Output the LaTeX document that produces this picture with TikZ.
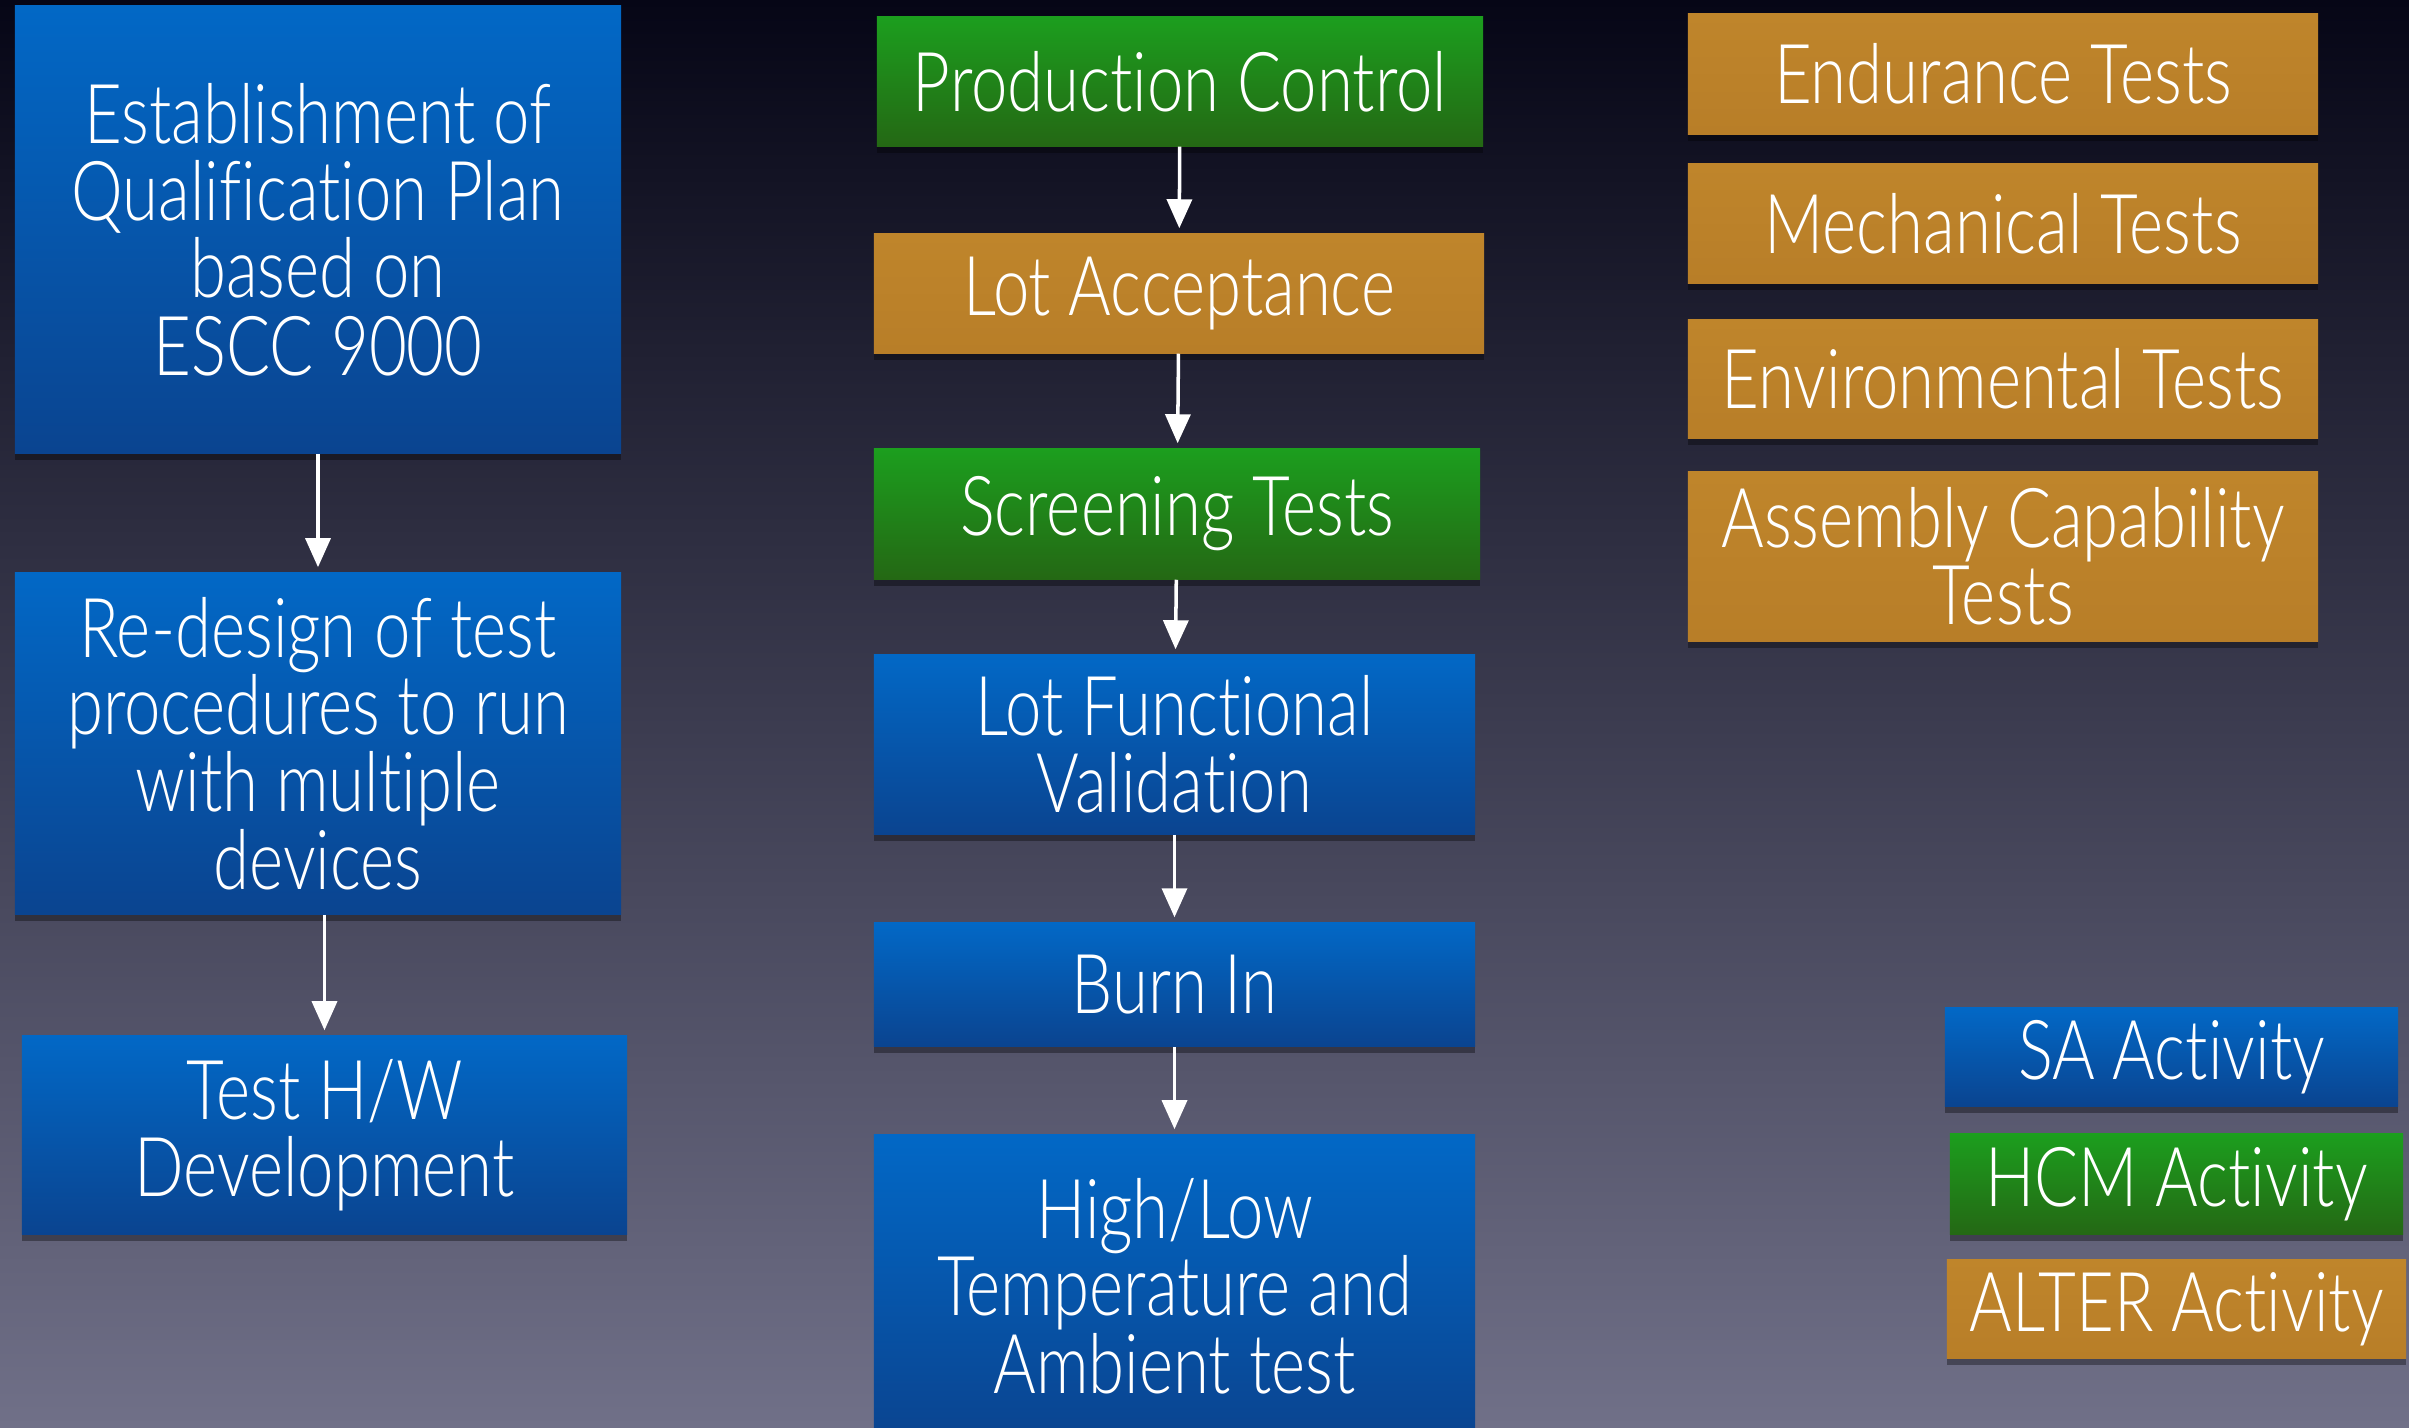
\documentclass[tikz,border=0pt]{standalone}
\usepackage{fontspec}
\setmainfont[UprightFont=* Light, FakeStretch=0.79, Ligatures=NoCommon]{Lato}
\usetikzlibrary{arrows.meta,shadows}
\definecolor{bgtop}{RGB}{6,6,22}
\definecolor{bgmid}{RGB}{56,56,92}
\definecolor{bgbot}{RGB}{112,112,136}
\definecolor{bluetop}{RGB}{2,104,198}
\definecolor{bluebot}{RGB}{10,68,144}
\definecolor{greentop}{RGB}{28,158,30}
\definecolor{greenbot}{RGB}{36,104,20}
\definecolor{ambertop}{RGB}{191,133,43}
\definecolor{amberbot}{RGB}{184,126,40}
\tikzset{
  stagebox/.style = {rectangle, inner sep=2pt, align=center, text=white,
                     font=\fontsize{23.5}{22}\selectfont,
                     drop shadow={shadow xshift=0pt, shadow yshift=-2pt,
                                  fill=black, opacity=0.35}},
  bluebox/.style  = {stagebox, top color=bluetop, bottom color=bluebot},
  greenbox/.style = {stagebox, top color=greentop, bottom color=greenbot},
  amberbox/.style = {stagebox, top color=ambertop, bottom color=amberbot},
  flowar/.style   = {-{Triangle[length=2.9mm,width=2.5mm]}, white,
                     line width=1pt, shorten >=0.5mm}
}

\begin{document}
\begin{tikzpicture}[x=0.01cm, y=-0.01cm]
  \useasboundingbox (0,0) rectangle (2409,1427);
  \clip (0,0) rectangle (2409,1427);
  \shade[top color=bgtop, middle color=bgmid, bottom color=bgbot]
    (0,0) rectangle (2409,1427);

  % left column
  \node[bluebox, minimum width=6.06cm, minimum height=4.47cm] (est) at (318,229.5)
    {Establishment of\\Qualification Plan\\based on\\ESCC 9000};
  \node[bluebox, minimum width=6.06cm, minimum height=3.41cm] (rd) at (318,743.5)
    {Re-design of test\\procedures to run\\with multiple\\devices};
  \node[bluebox, minimum width=6.05cm, minimum height=1.98cm] (hw) at (324.5,1135)
    {Test H/W\\Development};
  \draw[flowar] (est) -- (rd);
  \draw[flowar] (rd.south -| hw) -- (hw);

  % middle column
  \node[greenbox, minimum width=6.06cm, minimum height=1.29cm] (pc) at (1180,81.5)
    {Production Control};
  \node[amberbox, minimum width=6.10cm, minimum height=1.19cm] (la) at (1179,293.5)
    {Lot Acceptance};
  \node[greenbox, minimum width=6.06cm, minimum height=1.30cm] (st) at (1177,514)
    {Screening Tests};
  \node[bluebox, minimum width=6.01cm, minimum height=1.79cm] (lfv) at (1174.5,744.5)
    {Lot Functional\\Validation};
  \node[bluebox, minimum width=6.01cm, minimum height=1.23cm] (bi) at (1174.5,984.5)
    {Burn In};
  \node[bluebox, minimum width=6.01cm, minimum height=3.02cm] (hl) at (1174.5,1286)
    {High/Low\\Temperature and\\Ambient test};
  \draw[flowar] (pc) -- (la);
  \draw[flowar] (la) -- (st);
  \draw[flowar] (st) -- (lfv);
  \draw[flowar] (lfv) -- (bi);
  \draw[flowar] (bi) -- (hl);

  % right column
  \node[amberbox, minimum width=6.30cm, minimum height=1.20cm] (end) at (2003,74)
    {Endurance Tests};
  \node[amberbox, minimum width=6.30cm, minimum height=1.19cm] (mech) at (2003,223.5)
    {Mechanical Tests};
  \node[amberbox, minimum width=6.30cm, minimum height=1.18cm] (env) at (2003,379)
    {Environmental Tests};
  \node[amberbox, minimum width=6.30cm, minimum height=1.69cm] (asm) at (2003,556.5)
    {Assembly Capability\\Tests};

  % legend
  \node[bluebox, minimum width=4.53cm, minimum height=0.98cm] (sa) at (2171.5,1057)
    {SA Activity};
  \node[greenbox, minimum width=4.53cm, minimum height=1.00cm] (hcm) at (2176.5,1184)
    {HCM Activity};
  \node[amberbox, minimum width=4.59cm, minimum height=0.98cm] (alt) at (2176.5,1309)
    {ALTER Activity};
\end{tikzpicture}
\end{document}
